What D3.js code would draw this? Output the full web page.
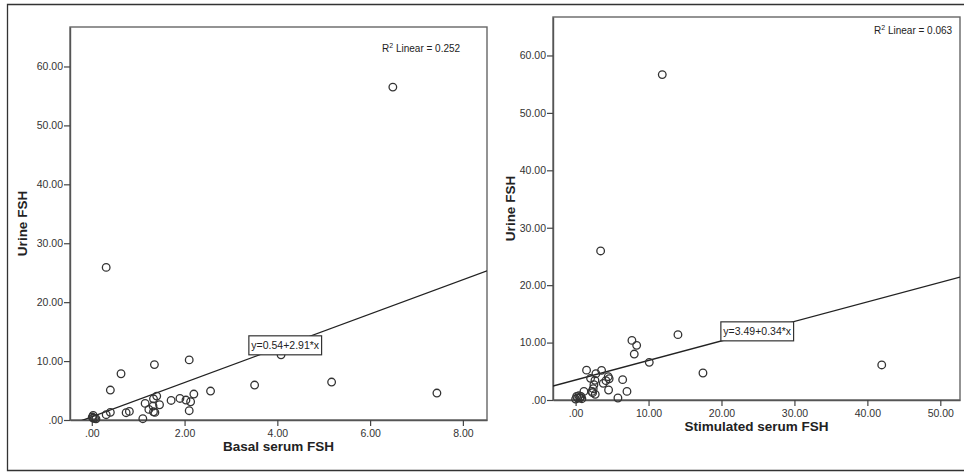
<!DOCTYPE html>
<html>
<head>
<meta charset="utf-8">
<script src="https://cdn.jsdelivr.net/npm/d3@7"></script>
<style>
  body { margin: 0; background: #fff; }
  svg { display: block; font-family: "Liberation Sans", Arial, sans-serif; }
</style>
</head>
<body>
<svg id="chart" width="964" height="472"></svg>
<script>
// data ---------------------------------------------------------
const basalFSH = [0.31, 2.10, 1.35, 0.63, 0.40, 3.51, 5.17, 7.44, 2.56, 2.20, 1.40, 1.33, 1.71, 1.90, 2.03, 2.13, 1.46, 1.15, 1.32, 1.23, 2.10, 1.33, 1.36, 0.74, 0.81, 0.40, 0.31, 1.10, 0.03, 0.01, 0.03, 0.09, 0.06, 4.08, 6.49];
const urineBasal = [25.9, 10.2, 9.4, 7.85, 5.08, 5.93, 6.44, 4.57, 4.91, 4.4, 4.06, 3.6, 3.32, 3.66, 3.39, 3.1, 2.59, 2.82, 2.37, 1.8, 1.58, 1.4, 1.29, 1.24, 1.46, 1.3, 0.9, 0.22, 0.78, 0.5, 0.33, 0.2, 0.3, 11.07, 56.5];

const stimFSH = [3.43, 14.03, 7.72, 8.37, 8.04, 10.1, 41.97, 17.46, 1.5, 3.56, 2.78, 2.05, 4.47, 4.6, 6.45, 2.65, 4.16, 3.79, 2.51, 2.41, 2.24, 2.33, 4.52, 7.04, 1.14, 2.69, 5.8, 0.14, 0.45, 0.73, 0.27, 0.59, 0.0, 0.86, 11.88];
const urineStim = [25.96, 11.38, 10.38, 9.52, 8.0, 6.56, 6.1, 4.7, 5.2, 5.16, 4.58, 3.77, 4.06, 3.7, 3.54, 3.42, 3.37, 2.9, 2.67, 1.97, 1.5, 1.27, 1.74, 1.5, 1.5, 0.98, 0.35, 0.63, 0.75, 0.63, 0.35, 0.35, 0.17, 0.23, 56.67];

const yTicks = [0, 10, 20, 30, 40, 50, 60];
const xTicksBasal = [0, 2, 4, 6, 8];
const xTicksStim = [0, 10, 20, 30, 40, 50];

// fit lines (intercept, slope) and R squared
const fitBasal = [0.54, 2.91];
const fitStim = [3.49, 0.34];
const r2Basal = "0.252";
const r2Stim = "0.063";

const svg = d3.select("#chart");

// outer frame
svg.append("path")
  .attr("d", "M970,4.5 H7.5 V470.5 H970")
  .attr("fill", "none")
  .attr("stroke", "#333")
  .attr("stroke-width", 1.3);

const fmt = v => (v === 0 ? ".00" : d3.format(".2f")(v));

function drawPanel(p) {
  const x = d3.scaleLinear().domain(p.xDomain).range([p.left, p.right]);
  const y = d3.scaleLinear().domain([0, 66.7]).range([p.bottom, p.top]);
  const g = svg.append("g");

  // plot frame
  g.append("rect")
    .attr("x", p.left).attr("y", p.top)
    .attr("width", p.right - p.left).attr("height", p.bottom - p.top)
    .attr("fill", "none").attr("stroke", "#666").attr("stroke-width", 1.4);

  // axes
  const ax = g.append("g")
    .attr("transform", `translate(0,${p.bottom})`)
    .call(d3.axisBottom(x).tickValues(p.xTicks).tickFormat(fmt).tickSize(6).tickSizeOuter(0));
  const ay = g.append("g")
    .attr("transform", `translate(${p.left},0)`)
    .call(d3.axisLeft(y).tickValues(yTicks).tickFormat(fmt).tickSize(6).tickSizeOuter(0));
  [ax, ay].forEach(a => {
    a.select(".domain").attr("stroke", "#555").attr("stroke-width", 1.4);
    a.selectAll(".tick line").attr("stroke", "#444").attr("stroke-width", 1.2);
    a.selectAll(".tick text")
      .attr("fill", "#333")
      .attr("font-size", "10.5px")
      .attr("font-family", "Liberation Sans, Arial, sans-serif");
  });
  ax.selectAll(".tick text").attr("y", 10);
  ay.selectAll(".tick text").attr("x", -7);

  // axis titles
  g.append("text")
    .attr("x", (p.left + p.right) / 2).attr("y", p.bottom + 31)
    .attr("text-anchor", "middle")
    .attr("font-size", "13.5px").attr("font-weight", "bold").attr("fill", "#222")
    .text(p.xLabel);
  g.append("text")
    .attr("transform", `translate(${p.yLabelX},${(p.top + p.bottom) / 2}) rotate(-90)`)
    .attr("text-anchor", "middle")
    .attr("font-size", "13.5px").attr("font-weight", "bold").attr("fill", "#222")
    .text("Urine FSH");

  // clip for fit line
  const clipId = "clip" + p.id;
  svg.append("clipPath").attr("id", clipId)
    .append("rect")
    .attr("x", p.left).attr("y", p.top)
    .attr("width", p.right - p.left).attr("height", p.bottom - p.top);

  const [a, b] = p.fit;
  const xs = p.xDomain;
  g.append("line")
    .attr("clip-path", `url(#${clipId})`)
    .attr("x1", x(xs[0])).attr("y1", y(a + b * xs[0]))
    .attr("x2", x(xs[1])).attr("y2", y(a + b * xs[1]))
    .attr("stroke", "#222").attr("stroke-width", 1.3);

  // points
  g.selectAll("circle.pt")
    .data(p.xs.map((v, i) => [v, p.ys[i]]))
    .join("circle")
    .attr("class", "pt")
    .attr("cx", d => x(d[0]))
    .attr("cy", d => y(d[1]))
    .attr("r", 3.8)
    .attr("fill", "none")
    .attr("stroke", "#333")
    .attr("stroke-width", 1.3);

  // equation box on the line
  const bx = x(p.labelAt), by = y(a + b * p.labelAt);
  const lbl = g.append("g").attr("transform", `translate(${bx},${by})`);
  const t = lbl.append("text")
    .attr("text-anchor", "middle").attr("dy", "0.35em")
    .attr("font-size", "10.5px").attr("fill", "#222")
    .text(`y=${a.toFixed(2)}+${b.toFixed(2)}*x`);
  const w = t.node().getComputedTextLength() + 5;
  lbl.insert("rect", "text")
    .attr("x", -w / 2).attr("y", -9.5)
    .attr("width", w).attr("height", 19)
    .attr("fill", "#fff").attr("stroke", "#333").attr("stroke-width", 1.2);

  // R squared
  const r = g.append("text")
    .attr("x", p.r2x).attr("y", p.r2y)
    .attr("font-size", "10px").attr("fill", "#222");
  r.append("tspan").text("R");
  r.append("tspan").attr("dy", -4).attr("font-size", "7px").text("2");
  r.append("tspan").attr("dy", 4).text(` Linear = ${p.r2}`);
}

drawPanel({
  id: "L", left: 70, right: 487, top: 27, bottom: 420,
  xDomain: [-0.47, 8.52], xTicks: xTicksBasal,
  xs: basalFSH, ys: urineBasal, fit: fitBasal, labelAt: 4.17,
  xLabel: "Basal serum FSH", yLabelX: 27,
  r2: r2Basal, r2x: 382, r2y: 52
});

drawPanel({
  id: "R", left: 553, right: 960, top: 17, bottom: 400,
  xDomain: [-3.1, 52.7], xTicks: xTicksStim,
  xs: stimFSH, ys: urineStim, fit: fitStim, labelAt: 24.9,
  xLabel: "Stimulated serum FSH", yLabelX: 515,
  r2: r2Stim, r2x: 874, r2y: 34
});
</script>
</body>
</html>
